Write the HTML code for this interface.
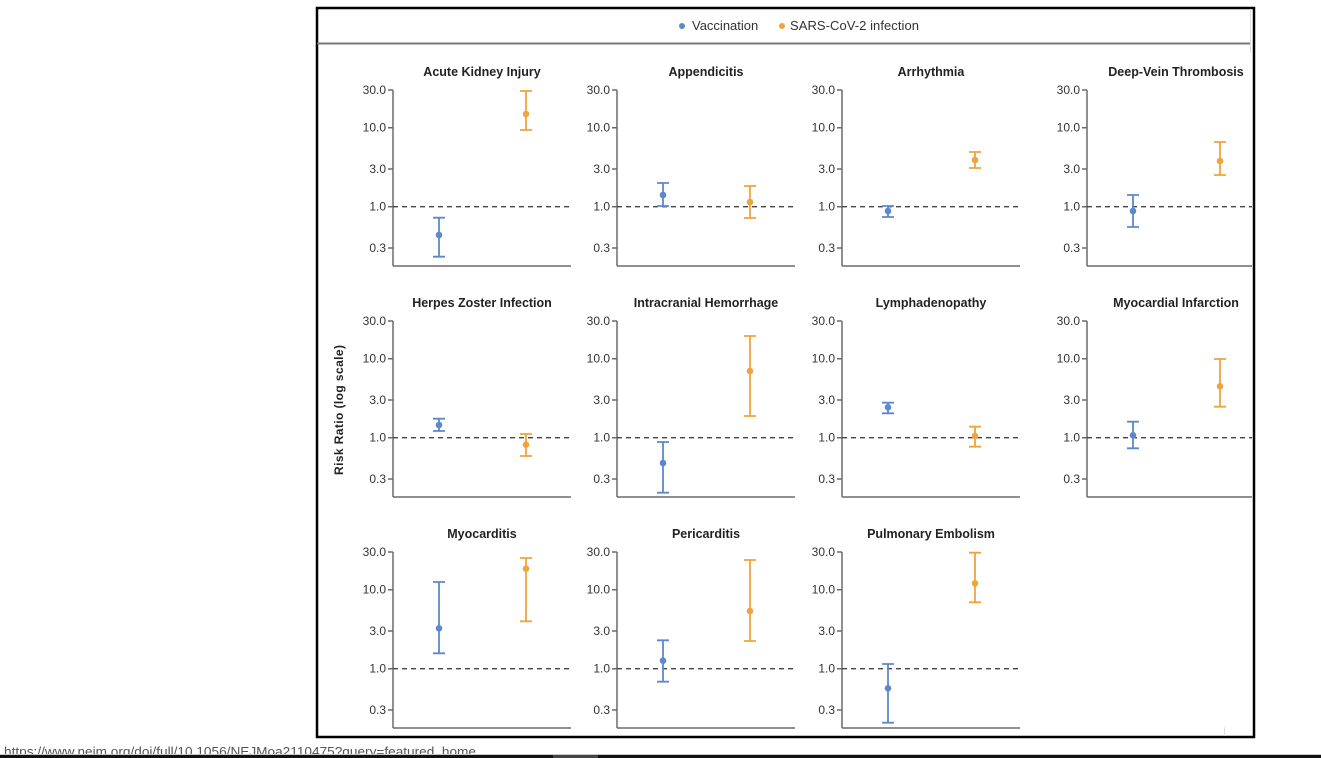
<!DOCTYPE html>
<html><head><meta charset="utf-8"><style>
html,body{margin:0;padding:0;background:#fff;width:1321px;height:758px;overflow:hidden}
svg{display:block}
.t{font-family:"Liberation Sans",sans-serif;font-size:12px;fill:#333;text-anchor:end}
.ti{font-family:"Liberation Sans",sans-serif;font-size:12.5px;font-weight:bold;fill:#222;text-anchor:middle}
.ax{stroke:#6b6b6b;stroke-width:1.5;fill:none}
.dl{stroke:#444;stroke-width:1.3;stroke-dasharray:5 4}
.v{stroke:#5d88cc;stroke-width:1.8;fill:none}
.s{stroke:#eea43f;stroke-width:1.8;fill:none}
.vd{fill:#5d88cc}.sd{fill:#eea43f}
</style></head><body>
<svg width="1321" height="758" viewBox="0 0 1321 758" xmlns="http://www.w3.org/2000/svg">
<defs><clipPath id="cp"><rect x="0" y="0" width="1252" height="758"/></clipPath></defs>
<rect x="0" y="0" width="1321" height="758" fill="#fff"/>
<!-- frame -->
<rect x="317" y="8" width="937" height="729" fill="none" stroke="#000" stroke-width="2.5"/>
<line x1="317" y1="43.5" x2="1250" y2="43.5" stroke="#777" stroke-width="2"/>
<line x1="1250.5" y1="9" x2="1250.5" y2="53" stroke="#ddd" stroke-width="1"/>
<line x1="1224.5" y1="727" x2="1224.5" y2="736" stroke="#ddd" stroke-width="1"/>
<!-- legend -->
<circle cx="682" cy="26" r="3" class="vd"/>
<text x="692" y="30" font-family="Liberation Sans, sans-serif" font-size="13" fill="#333">Vaccination</text>
<circle cx="782" cy="26" r="3" class="sd"/>
<text x="790" y="30" font-family="Liberation Sans, sans-serif" font-size="13" fill="#333" textLength="129">SARS-CoV-2 infection</text>
<!-- y label -->
<text transform="translate(343,410) rotate(-90)" font-family="Liberation Sans, sans-serif" font-size="12" font-weight="bold" fill="#222" text-anchor="middle" textLength="130">Risk Ratio (log scale)</text>

<g clip-path="url(#cp)">
<!-- ROW 1 -->
<g transform="translate(393,90)">
<line class="ax" x1="0" y1="0" x2="0" y2="176"/><line class="ax" x1="0" y1="176" x2="178" y2="176"/>
<path class="ax" d="M-5 0H0M-5 37.7H0M-5 79H0M-5 116.7H0M-5 158H0"/>
<text class="t" x="-7" y="4">30.0</text><text class="t" x="-7" y="41.7">10.0</text><text class="t" x="-7" y="83">3.0</text><text class="t" x="-7" y="120.7">1.0</text><text class="t" x="-7" y="162">0.3</text>
<line class="dl" x1="0" y1="116.7" x2="178" y2="116.7"/>
<text class="ti" x="89" y="-14">Acute Kidney Injury</text>
<path class="v" d="M46 127.7V166.7M40 127.7H52M40 166.7H52"/><circle class="vd" cx="46" cy="145" r="3.3"/>
<path class="s" d="M133 1V40M127 1H139M127 40H139"/><circle class="sd" cx="133" cy="24" r="3.3"/>
</g>
<g transform="translate(617,90)">
<line class="ax" x1="0" y1="0" x2="0" y2="176"/><line class="ax" x1="0" y1="176" x2="178" y2="176"/>
<path class="ax" d="M-5 0H0M-5 37.7H0M-5 79H0M-5 116.7H0M-5 158H0"/>
<text class="t" x="-7" y="4">30.0</text><text class="t" x="-7" y="41.7">10.0</text><text class="t" x="-7" y="83">3.0</text><text class="t" x="-7" y="120.7">1.0</text><text class="t" x="-7" y="162">0.3</text>
<line class="dl" x1="0" y1="116.7" x2="178" y2="116.7"/>
<text class="ti" x="89" y="-14">Appendicitis</text>
<path class="v" d="M46 93V116M40 93H52M40 116H52"/><circle class="vd" cx="46" cy="105" r="3.3"/>
<path class="s" d="M133 96V128M127 96H139M127 128H139"/><circle class="sd" cx="133" cy="112" r="3.3"/>
</g>
<g transform="translate(842,90)">
<line class="ax" x1="0" y1="0" x2="0" y2="176"/><line class="ax" x1="0" y1="176" x2="178" y2="176"/>
<path class="ax" d="M-5 0H0M-5 37.7H0M-5 79H0M-5 116.7H0M-5 158H0"/>
<text class="t" x="-7" y="4">30.0</text><text class="t" x="-7" y="41.7">10.0</text><text class="t" x="-7" y="83">3.0</text><text class="t" x="-7" y="120.7">1.0</text><text class="t" x="-7" y="162">0.3</text>
<line class="dl" x1="0" y1="116.7" x2="178" y2="116.7"/>
<text class="ti" x="89" y="-14">Arrhythmia</text>
<path class="v" d="M46 116V127M40 116H52M40 127H52"/><circle class="vd" cx="46" cy="121" r="3.3"/>
<path class="s" d="M133 62V78M127 62H139M127 78H139"/><circle class="sd" cx="133" cy="70" r="3.3"/>
</g>
<g transform="translate(1087,90)">
<line class="ax" x1="0" y1="0" x2="0" y2="176"/><line class="ax" x1="0" y1="176" x2="178" y2="176"/>
<path class="ax" d="M-5 0H0M-5 37.7H0M-5 79H0M-5 116.7H0M-5 158H0"/>
<text class="t" x="-7" y="4">30.0</text><text class="t" x="-7" y="41.7">10.0</text><text class="t" x="-7" y="83">3.0</text><text class="t" x="-7" y="120.7">1.0</text><text class="t" x="-7" y="162">0.3</text>
<line class="dl" x1="0" y1="116.7" x2="178" y2="116.7"/>
<text class="ti" x="89" y="-14">Deep-Vein Thrombosis</text>
<path class="v" d="M46 105V137M40 105H52M40 137H52"/><circle class="vd" cx="46" cy="121" r="3.3"/>
<path class="s" d="M133 52V85M127 52H139M127 85H139"/><circle class="sd" cx="133" cy="71" r="3.3"/>
</g>

<!-- ROW 2 -->
<g transform="translate(393,321)">
<line class="ax" x1="0" y1="0" x2="0" y2="176"/><line class="ax" x1="0" y1="176" x2="178" y2="176"/>
<path class="ax" d="M-5 0H0M-5 37.7H0M-5 79H0M-5 116.7H0M-5 158H0"/>
<text class="t" x="-7" y="4">30.0</text><text class="t" x="-7" y="41.7">10.0</text><text class="t" x="-7" y="83">3.0</text><text class="t" x="-7" y="120.7">1.0</text><text class="t" x="-7" y="162">0.3</text>
<line class="dl" x1="0" y1="116.7" x2="178" y2="116.7"/>
<text class="ti" x="89" y="-14">Herpes Zoster Infection</text>
<path class="v" d="M46 97.7V110M40 97.7H52M40 110H52"/><circle class="vd" cx="46" cy="104" r="3.3"/>
<path class="s" d="M133 113V135M127 113H139M127 135H139"/><circle class="sd" cx="133" cy="123.7" r="3.3"/>
</g>
<g transform="translate(617,321)">
<line class="ax" x1="0" y1="0" x2="0" y2="176"/><line class="ax" x1="0" y1="176" x2="178" y2="176"/>
<path class="ax" d="M-5 0H0M-5 37.7H0M-5 79H0M-5 116.7H0M-5 158H0"/>
<text class="t" x="-7" y="4">30.0</text><text class="t" x="-7" y="41.7">10.0</text><text class="t" x="-7" y="83">3.0</text><text class="t" x="-7" y="120.7">1.0</text><text class="t" x="-7" y="162">0.3</text>
<line class="dl" x1="0" y1="116.7" x2="178" y2="116.7"/>
<text class="ti" x="89" y="-14">Intracranial Hemorrhage</text>
<path class="v" d="M46 121V171.7M40 121H52M40 171.7H52"/><circle class="vd" cx="46" cy="142" r="3.3"/>
<path class="s" d="M133 15V95M127 15H139M127 95H139"/><circle class="sd" cx="133" cy="50" r="3.3"/>
</g>
<g transform="translate(842,321)">
<line class="ax" x1="0" y1="0" x2="0" y2="176"/><line class="ax" x1="0" y1="176" x2="178" y2="176"/>
<path class="ax" d="M-5 0H0M-5 37.7H0M-5 79H0M-5 116.7H0M-5 158H0"/>
<text class="t" x="-7" y="4">30.0</text><text class="t" x="-7" y="41.7">10.0</text><text class="t" x="-7" y="83">3.0</text><text class="t" x="-7" y="120.7">1.0</text><text class="t" x="-7" y="162">0.3</text>
<line class="dl" x1="0" y1="116.7" x2="178" y2="116.7"/>
<text class="ti" x="89" y="-14">Lymphadenopathy</text>
<path class="v" d="M46 81.7V92.3M40 81.7H52M40 92.3H52"/><circle class="vd" cx="46" cy="86.3" r="3.3"/>
<path class="s" d="M133 105.7V125.7M127 105.7H139M127 125.7H139"/><circle class="sd" cx="133" cy="115" r="3.3"/>
</g>
<g transform="translate(1087,321)">
<line class="ax" x1="0" y1="0" x2="0" y2="176"/><line class="ax" x1="0" y1="176" x2="178" y2="176"/>
<path class="ax" d="M-5 0H0M-5 37.7H0M-5 79H0M-5 116.7H0M-5 158H0"/>
<text class="t" x="-7" y="4">30.0</text><text class="t" x="-7" y="41.7">10.0</text><text class="t" x="-7" y="83">3.0</text><text class="t" x="-7" y="120.7">1.0</text><text class="t" x="-7" y="162">0.3</text>
<line class="dl" x1="0" y1="116.7" x2="178" y2="116.7"/>
<text class="ti" x="89" y="-14">Myocardial Infarction</text>
<path class="v" d="M46 100.7V127.3M40 100.7H52M40 127.3H52"/><circle class="vd" cx="46" cy="114.3" r="3.3"/>
<path class="s" d="M133 38V85.7M127 38H139M127 85.7H139"/><circle class="sd" cx="133" cy="65.3" r="3.3"/>
</g>

<!-- ROW 3 -->
<g transform="translate(393,552)">
<line class="ax" x1="0" y1="0" x2="0" y2="176"/><line class="ax" x1="0" y1="176" x2="178" y2="176"/>
<path class="ax" d="M-5 0H0M-5 37.7H0M-5 79H0M-5 116.7H0M-5 158H0"/>
<text class="t" x="-7" y="4">30.0</text><text class="t" x="-7" y="41.7">10.0</text><text class="t" x="-7" y="83">3.0</text><text class="t" x="-7" y="120.7">1.0</text><text class="t" x="-7" y="162">0.3</text>
<line class="dl" x1="0" y1="116.7" x2="178" y2="116.7"/>
<text class="ti" x="89" y="-14">Myocarditis</text>
<path class="v" d="M46 30V101.3M40 30H52M40 101.3H52"/><circle class="vd" cx="46" cy="76.3" r="3.3"/>
<path class="s" d="M133 6V69.3M127 6H139M127 69.3H139"/><circle class="sd" cx="133" cy="16.7" r="3.3"/>
</g>
<g transform="translate(617,552)">
<line class="ax" x1="0" y1="0" x2="0" y2="176"/><line class="ax" x1="0" y1="176" x2="178" y2="176"/>
<path class="ax" d="M-5 0H0M-5 37.7H0M-5 79H0M-5 116.7H0M-5 158H0"/>
<text class="t" x="-7" y="4">30.0</text><text class="t" x="-7" y="41.7">10.0</text><text class="t" x="-7" y="83">3.0</text><text class="t" x="-7" y="120.7">1.0</text><text class="t" x="-7" y="162">0.3</text>
<line class="dl" x1="0" y1="116.7" x2="178" y2="116.7"/>
<text class="ti" x="89" y="-14">Pericarditis</text>
<path class="v" d="M46 88.3V129.7M40 88.3H52M40 129.7H52"/><circle class="vd" cx="46" cy="108.7" r="3.3"/>
<path class="s" d="M133 8V89M127 8H139M127 89H139"/><circle class="sd" cx="133" cy="59" r="3.3"/>
</g>
<g transform="translate(842,552)">
<line class="ax" x1="0" y1="0" x2="0" y2="176"/><line class="ax" x1="0" y1="176" x2="178" y2="176"/>
<path class="ax" d="M-5 0H0M-5 37.7H0M-5 79H0M-5 116.7H0M-5 158H0"/>
<text class="t" x="-7" y="4">30.0</text><text class="t" x="-7" y="41.7">10.0</text><text class="t" x="-7" y="83">3.0</text><text class="t" x="-7" y="120.7">1.0</text><text class="t" x="-7" y="162">0.3</text>
<line class="dl" x1="0" y1="116.7" x2="178" y2="116.7"/>
<text class="ti" x="89" y="-14">Pulmonary Embolism</text>
<path class="v" d="M46 112V170.7M40 112H52M40 170.7H52"/><circle class="vd" cx="46" cy="136.3" r="3.3"/>
<path class="s" d="M133 0.7V50.3M127 0.7H139M127 50.3H139"/><circle class="sd" cx="133" cy="31.3" r="3.3"/>
</g>
</g>

<!-- bottom status / taskbar -->
<text x="4" y="756" font-family="Liberation Sans, sans-serif" font-size="13" fill="#555" textLength="472" lengthAdjust="spacingAndGlyphs">https://www.nejm.org/doi/full/10.1056/NEJMoa2110475?query=featured_home</text>
<rect x="0" y="754" width="1321" height="1" fill="#c8c8c8"/>
<rect x="0" y="755" width="1321" height="3" fill="#111"/>
<rect x="553" y="755" width="45" height="3" fill="#444"/>
</svg>
</body></html>
